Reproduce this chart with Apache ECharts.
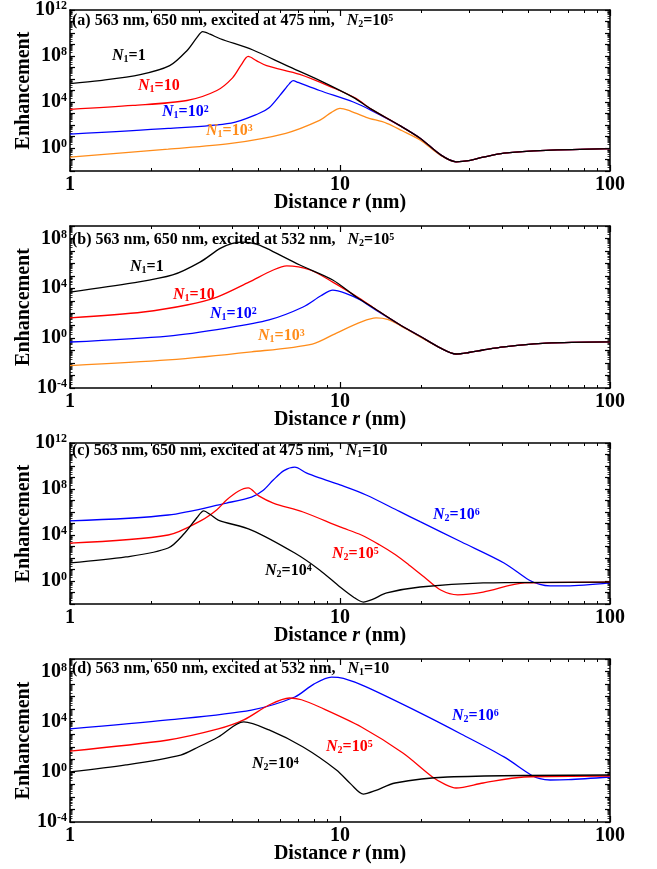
<!DOCTYPE html>
<html><head><meta charset="utf-8">
<script src="https://cdn.jsdelivr.net/npm/echarts@6/dist/echarts.min.js"></script>
<style>html,body{margin:0;padding:0;background:#fff}#c{width:657px;height:869px}</style>
</head><body><div id="c"></div>
<script>
// ---------- data: distance r (nm) and log10(enhancement) ----------
// panel (a): excited at 475 nm, N2 = 1e5
const a_N1_1_r    = [1, 1.29, 1.82, 2.34, 2.71, 2.95, 3.1, 3.3, 3.6, 4.76, 6.35, 8.43, 11.2, 13, 16.6, 19.8, 23.6, 26.9, 30, 33.9, 40.5, 58, 100];
const a_N1_1_logE = [5.6, 5.86, 6.38, 7.16, 8.46, 9.6, 10.12, 9.9, 9.5, 8.52, 7.16, 5.86, 4.4, 3.4, 1.97, 0.85, -0.6, -1.2, -1.1, -0.8, -0.45, -0.2, -0.05];
const a_N1_10_r    = [1, 1.71, 2.71, 3.5, 4.0, 4.3, 4.57, 4.9, 5.35, 7.1, 9.4, 11.5, 13, 16.6, 19.8, 23.6, 26.9, 30, 33.9, 40.5, 58, 100];
const a_N1_10_logE = [3.36, 3.7, 4.13, 5.0, 6.1, 7.2, 7.96, 7.6, 7.16, 6.4, 5.25, 4.3, 3.4, 1.97, 0.85, -0.6, -1.2, -1.1, -0.8, -0.45, -0.2, -0.05];
const a_N1_100_r    = [1, 2.31, 3.95, 5.0, 5.46, 6.0, 6.5, 6.7, 7.0, 8.4, 11.2, 13, 16.6, 19.8, 23.6, 26.9, 30, 33.9, 40.5, 58, 100];
const a_N1_100_logE = [1.2, 1.7, 2.17, 3.0, 3.5, 4.6, 5.6, 5.86, 5.7, 5.0, 4.0, 3.3, 1.97, 0.85, -0.6, -1.2, -1.1, -0.8, -0.45, -0.2, -0.05];
const a_N1_1000_r    = [1, 2.31, 3.95, 6.3, 8.4, 9.3, 10, 10.7, 12.5, 14.9, 17, 19.8, 23.6, 26.9, 30, 33.9, 40.5, 58, 100];
const a_N1_1000_logE = [-0.8, -0.1, 0.4, 1.28, 2.4, 3.1, 3.44, 3.3, 2.67, 2.15, 1.5, 0.7, -0.65, -1.2, -1.1, -0.8, -0.45, -0.2, -0.05];

// panel (b): excited at 532 nm, N2 = 1e5
const b_N1_1_r    = [1, 1.71, 2.4, 3.03, 3.6, 4.0, 4.38, 4.9, 5.35, 7.1, 9.4, 11.5, 13.6, 16.6, 19.8, 23.6, 26.9, 30, 33.9, 40.5, 58, 100];
const b_N1_1_logE = [3.7, 4.43, 5.07, 6.1, 7.2, 7.6, 7.7, 7.55, 7.2, 5.87, 4.67, 3.3, 2.3, 1.1, 0.15, -0.8, -1.27, -1.15, -0.95, -0.7, -0.4, -0.3];
const b_N1_10_r    = [1, 1.87, 2.71, 3.5, 4.6, 5.66, 6.35, 7.75, 9.4, 11.8, 13.6, 16.6, 19.8, 23.6, 26.9, 30, 33.9, 40.5, 58, 100];
const b_N1_10_logE = [1.62, 2.1, 2.66, 3.3, 4.5, 5.47, 5.8, 5.47, 4.5, 3.2, 2.3, 1.1, 0.15, -0.8, -1.27, -1.15, -0.95, -0.7, -0.4, -0.3];
const b_N1_100_r    = [1, 2.31, 3.8, 5.46, 7.3, 8.5, 9.4, 10.5, 11.8, 13.6, 16.6, 19.8, 23.6, 26.9, 30, 33.9, 40.5, 58, 100];
const b_N1_100_logE = [-0.31, 0.17, 0.81, 1.46, 2.5, 3.4, 3.86, 3.6, 3.1, 2.25, 1.1, 0.15, -0.8, -1.27, -1.15, -0.95, -0.7, -0.4, -0.3];
const b_N1_1000_r    = [1, 2.31, 4.7, 7.9, 9.7, 12, 13.6, 15, 16.6, 19.8, 23.6, 26.9, 30, 33.9, 40.5, 58, 100];
const b_N1_1000_logE = [-2.2, -1.75, -1.1, -0.47, 0.41, 1.3, 1.62, 1.5, 1.05, 0.1, -0.8, -1.27, -1.15, -0.95, -0.7, -0.4, -0.3];

// panel (c): excited at 475 nm, N1 = 10
const c_N2_1e4_r    = [1, 1.61, 2.31, 2.66, 2.95, 3.13, 3.3, 3.54, 4.7, 6.8, 8.4, 10, 11.2, 12.2, 13.2, 14.9, 19.8, 33.9, 100];
const c_N2_1e4_logE = [1.57, 2.09, 2.87, 4.17, 5.5, 6.09, 5.8, 5.3, 4.43, 2.43, 0.96, -0.52, -1.39, -1.83, -1.6, -1.04, -0.52, -0.17, -0.09];
const c_N2_1e5_r    = [1, 2.31, 3.08, 3.5, 3.8, 4.2, 4.57, 5.0, 5.66, 7.3, 10, 12, 14, 16, 18, 20.5, 23.6, 27.3, 33.9, 48.3, 100];
const c_N2_1e5_logE = [3.3, 4.0, 5.3, 6.2, 7.04, 7.8, 8.09, 7.4, 6.78, 6.0, 4.7, 4.0, 3.15, 2.3, 1.4, 0.35, -0.78, -1.2, -0.96, -0.17, -0.09];
const c_N2_1e6_r    = [1, 2.31, 3.8, 4.7, 5.2, 5.66, 6.2, 6.8, 7.5, 8.4, 10, 12.5, 16.6, 19.8, 28.2, 40.5, 50.1, 55, 60, 69, 100];
const c_N2_1e6_logE = [5.22, 5.74, 6.78, 7.3, 7.9, 8.78, 9.6, 9.9, 9.4, 8.96, 8.35, 7.48, 6.05, 5.16, 3.39, 1.57, 0.09, -0.3, -0.43, -0.43, -0.17];

// panel (d): excited at 532 nm, N1 = 10
const d_N2_1e4_r    = [1, 1.61, 2.57, 3.0, 3.54, 4.4, 5.46, 7.3, 9.7, 11, 12.2, 13.5, 16, 25, 100];
const d_N2_1e4_logE = [-0.01, 0.55, 1.34, 2.0, 2.78, 3.98, 3.34, 1.98, 0.15, -1.0, -1.77, -1.5, -0.89, -0.41, -0.25];
const d_N2_1e5_r    = [1, 2.31, 3.54, 4.4, 5.46, 6.5, 7.2, 8.4, 12, 17.1, 22, 24.5, 26.9, 33.9, 48, 100];
const d_N2_1e5_logE = [1.66, 2.54, 3.42, 4.14, 5.33, 5.89, 5.75, 5.17, 3.58, 1.5, -0.41, -1.0, -1.29, -0.89, -0.41, -0.33];
const d_N2_1e6_r    = [1, 2.31, 4.7, 6.8, 8.0, 9.3, 10.3, 12.5, 19.8, 28.2, 40.5, 51, 55, 60, 70, 100];
const d_N2_1e6_logE = [3.42, 4.14, 4.93, 5.97, 7.0, 7.56, 7.45, 6.77, 4.7, 3.0, 1.19, -0.25, -0.55, -0.65, -0.62, -0.41];

// axis ranges (log10 exponent) and tick labels
const yRangeExp = [[-2, 12], [-4, 9], [-2, 12], [-4, 9]];
const xTickLabels = [1, 10, 100];
const xMinorTicks = [2, 3, 4, 5, 6, 7, 8, 9, 20, 30, 40, 50, 60, 70, 80, 90];
const panelTitles = [
  ['(a) 563 nm, 650 nm, excited at 475 nm,   ', '2', '5'],
  ['(b) 563 nm, 650 nm, excited at 532 nm,   ', '2', '5'],
  ['(c) 563 nm, 650 nm, excited at 475 nm,   ', '1', '10', true],
  ['(d) 563 nm, 650 nm, excited at 532 nm,   ', '1', '10', true]
];

// ---------- layout ----------
const FONT = "'Liberation Serif','Times New Roman',serif";
const grids = [
  {left: 70, top: 9, width: 540, height: 162},
  {left: 70, top: 226, width: 540, height: 162},
  {left: 70, top: 443, width: 540, height: 161},
  {left: 70, top: 659, width: 540, height: 163}
];
const COL = {black: '#000000', red: '#ff0000', blue: '#0000ff', orange: '#ff8c1a'};

const pairs = (r, le) => r.map((v, i) => [v, Math.pow(10, le[i])]);

const xAxes = [], yAxes = [];
grids.forEach((g, gi) => {
  const [e0, e1] = yRangeExp[gi];
  const yMajor = [], yMinor = [], yLab = [];
  for (let k = e0; k <= e1; k++) {
    yMajor.push(Math.pow(10, k));
    if (k % 4 === 0) yLab.push(Math.pow(10, k));
    if (k < e1) for (let m = 2; m <= 9; m++) yMinor.push(m * Math.pow(10, k));
  }
  const xb = {type: 'log', logBase: 10, min: 1, max: 100, gridIndex: gi, splitLine: {show: false}};
  const line = {show: true, onZero: false, lineStyle: {color: '#000', width: 1.5}};
  xAxes.push(Object.assign({}, xb, {
    position: 'bottom', axisLine: line,
    axisTick: {inside: true, length: 6, customValues: xTickLabels, lineStyle: {color: '#000', width: 1.2}},
    axisLabel: {customValues: xTickLabels, formatter: v => String(Math.round(v)), color: '#000',
      fontFamily: FONT, fontWeight: 'bold', fontSize: 20, margin: 4},
    name: '{b|Distance }{i|r}{b| (nm)}', nameLocation: 'middle', nameGap: 22, nameMoveOverlap: false,
    nameTextStyle: {rich: {
      b: {fontFamily: FONT, fontWeight: 'bold', fontSize: 20, color: '#000'},
      i: {fontFamily: FONT, fontWeight: 'bold', fontStyle: 'italic', fontSize: 20, color: '#000'}
    }}
  }));
  xAxes.push(Object.assign({}, xb, {
    position: 'bottom', axisLine: {show: false}, axisLabel: {show: false},
    axisTick: {inside: true, length: 3, customValues: xMinorTicks, lineStyle: {color: '#000', width: 1}}
  }));
  xAxes.push(Object.assign({}, xb, {
    position: 'top', axisLine: line, axisLabel: {show: false},
    axisTick: {inside: true, length: 6, customValues: xTickLabels, lineStyle: {color: '#000', width: 1.2}}
  }));
  xAxes.push(Object.assign({}, xb, {
    position: 'top', axisLine: {show: false}, axisLabel: {show: false},
    axisTick: {inside: true, length: 3, customValues: xMinorTicks, lineStyle: {color: '#000', width: 1}}
  }));
  const yb = {type: 'log', logBase: 10, min: Math.pow(10, e0), max: Math.pow(10, e1), gridIndex: gi, splitLine: {show: false}};
  yAxes.push(Object.assign({}, yb, {
    position: 'left', axisLine: line,
    axisTick: {inside: true, length: 5, customValues: yMajor, lineStyle: {color: '#000', width: 1.2}},
    axisLabel: {customValues: yLab, color: '#000', margin: 3,
      formatter: v => '{b|10}{s|' + Math.round(Math.log10(v)) + '}',
      rich: {
        b: {fontFamily: FONT, fontWeight: 'bold', fontSize: 20, color: '#000'},
        s: {fontFamily: FONT, fontWeight: 'bold', fontSize: 12, color: '#000', verticalAlign: 'top'}
      }},
    name: 'Enhancement', nameLocation: 'middle', nameGap: 36, nameMoveOverlap: false,
    nameTextStyle: {fontFamily: FONT, fontWeight: 'bold', fontSize: 20, color: '#000'}
  }));
  yAxes.push(Object.assign({}, yb, {
    position: 'left', axisLine: {show: false}, axisLabel: {show: false},
    axisTick: {inside: true, length: 2.5, customValues: yMinor, lineStyle: {color: '#000', width: 0.8}}
  }));
  yAxes.push(Object.assign({}, yb, {
    position: 'right', axisLine: line, axisLabel: {show: false},
    axisTick: {inside: true, length: 5, customValues: yMajor, lineStyle: {color: '#000', width: 1.2}}
  }));
  yAxes.push(Object.assign({}, yb, {
    position: 'right', axisLine: {show: false}, axisLabel: {show: false},
    axisTick: {inside: true, length: 2.5, customValues: yMinor, lineStyle: {color: '#000', width: 0.8}}
  }));
});

const curves = [
  [0, a_N1_1_r, a_N1_1_logE, 'black'], [0, a_N1_10_r, a_N1_10_logE, 'red'],
  [0, a_N1_100_r, a_N1_100_logE, 'blue'], [0, a_N1_1000_r, a_N1_1000_logE, 'orange'],
  [1, b_N1_1_r, b_N1_1_logE, 'black'], [1, b_N1_10_r, b_N1_10_logE, 'red'],
  [1, b_N1_100_r, b_N1_100_logE, 'blue'], [1, b_N1_1000_r, b_N1_1000_logE, 'orange'],
  [2, c_N2_1e4_r, c_N2_1e4_logE, 'black'], [2, c_N2_1e5_r, c_N2_1e5_logE, 'red'],
  [2, c_N2_1e6_r, c_N2_1e6_logE, 'blue'],
  [3, d_N2_1e4_r, d_N2_1e4_logE, 'black'], [3, d_N2_1e5_r, d_N2_1e5_logE, 'red'],
  [3, d_N2_1e6_r, d_N2_1e6_logE, 'blue']
];
const series = curves.slice().reverse().map(([gi, r, le, c]) => ({
  type: 'line', xAxisIndex: gi * 4, yAxisIndex: gi * 4, data: pairs(r, le),
  showSymbol: false, smooth: 0.3, clip: true, silent: true,
  lineStyle: {color: COL[c], width: 1.3}, itemStyle: {color: COL[c]}
}));

// ---------- text labels ----------
const richFor = (color, size) => ({
  i: {fontFamily: FONT, fontWeight: 'bold', fontStyle: 'italic', fontSize: size, fill: color, color},
  sub: {fontFamily: FONT, fontWeight: 'bold', fontSize: Math.round(size * 0.6), fill: color, color, verticalAlign: 'bottom'},
  sup: {fontFamily: FONT, fontWeight: 'bold', fontSize: Math.round(size * 0.6), fill: color, color, verticalAlign: 'top'},
  b: {fontFamily: FONT, fontWeight: 'bold', fontSize: size, fill: color, color}
});
const graphics = [];
const titleY = [23, 242, 453, 671];
panelTitles.forEach((t, gi) => {
  const tail = t[3] ? '{b|=' + t[2] + '}' : '{b|=10}{sup|' + t[2] + '}';
  graphics.push({type: 'text', left: 72, top: titleY[gi] - 10, z: 10,
    style: {text: '{b|' + t[0] + '}{i|N}{sub|' + t[1] + '}' + tail, fill: '#000', rich: richFor('#000', 16)}});
});
const curveLabels = [
  // [x, yCenter, subscript, value, exponent, color]
  [112, 59, '1', '1', '', 'black'], [138, 89, '1', '10', '', 'red'],
  [162, 115, '1', '10', '2', 'blue'], [206, 134, '1', '10', '3', 'orange'],
  [130, 270, '1', '1', '', 'black'], [173, 298, '1', '10', '', 'red'],
  [210, 317, '1', '10', '2', 'blue'], [258, 339, '1', '10', '3', 'orange'],
  [433, 518, '2', '10', '6', 'blue'], [332, 557, '2', '10', '5', 'red'], [265, 574, '2', '10', '4', 'black'],
  [452, 719, '2', '10', '6', 'blue'], [326, 750, '2', '10', '5', 'red'], [252, 767, '2', '10', '4', 'black']
];
curveLabels.forEach(([x, y, s, v, e, c]) => {
  const txt = '{i|N}{sub|' + s + '}{b|=' + v + '}' + (e ? '{sup|' + e + '}' : '');
  graphics.push({type: 'text', left: x, top: y - 11, z: 10,
    style: {text: txt, fill: COL[c], rich: richFor(COL[c], 16)}});
});

const chart = echarts.init(document.getElementById('c'), null, {renderer: 'canvas'});
chart.setOption({
  animation: false, backgroundColor: '#fff',
  grid: grids, xAxis: xAxes, yAxis: yAxes, series: series, graphic: graphics
});
</script></body></html>
